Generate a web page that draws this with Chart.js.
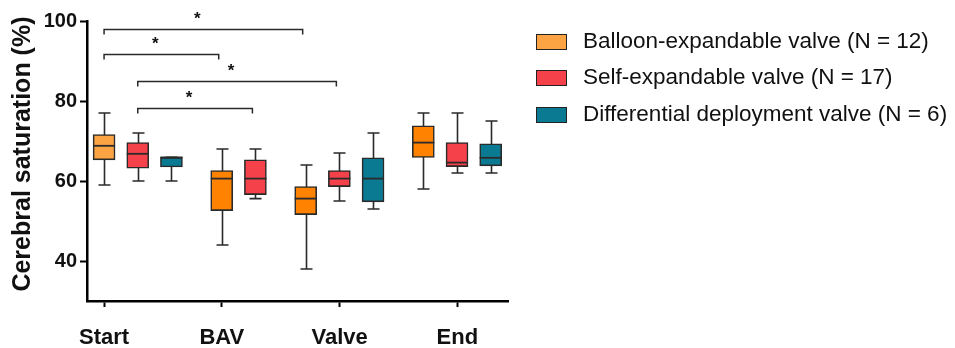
<!DOCTYPE html>
<html>
<head>
<meta charset="utf-8">
<script src="https://cdn.jsdelivr.net/npm/chart.js@4/dist/chart.umd.min.js"></script>
<style>
	body { margin: 0; background: #fff; }
	#wrap { position: relative; width: 955px; height: 348px; }
	#legend { position: absolute; left: 536px; top: 34px; font-family: Arial, "Liberation Sans", sans-serif; font-size: 22.5px; color: #111; }
	.item { position: relative; height: 36.3px; white-space: nowrap; }
	.swatch { position: absolute; left: 0; top: 0; width: 29px; height: 14px; border: 1px solid #222; }
	.label { position: absolute; left: 47px; top: -6px; }
</style>
</head>
<body>
<div id="wrap">
	<canvas id="c" width="955" height="348"></canvas>
	<div id="legend"></div>
</div>
<script>
// categories and series
const categories = ["Start", "BAV", "Valve", "End"];
const seriesNames = ["Balloon-expandable valve (N = 12)", "Self-expandable valve (N = 17)", "Differential deployment valve (N = 6)"];

// box plot values (min, q1, median, q3, max)
const balloonMin = [59, 44, 38, 58];
const balloonQ1 = [65.3, 52.6, 51.6, 65.9];
const balloonMed = [68.8, 60.6, 55.6, 69.6];
const balloonQ3 = [71.6, 62.6, 58.6, 73.8];
const balloonMax = [77, 68, 64, 77];

const selfMin = [60, 55.6, 55, 62];
const selfQ1 = [63.2, 56.6, 58.6, 63.6];
const selfMed = [66.8, 60.6, 60.6, 64.6];
const selfQ3 = [69.6, 65.3, 62.6, 69.6];
const selfMax = [72, 68, 67, 77];

const diffMin = [60, null, 53, 62];
const diffQ1 = [63.5, null, 54.8, 63.8];
const diffMed = [65.9, null, 60.6, 65.8];
const diffQ3 = [65.9, null, 65.8, 69.3];
const diffMax = [65.9, null, 72, 75];

// significance brackets: [category, series] at each end, y in %
const bracketFrom = [[0, 0], [0, 0], [0, 1], [0, 1]];
const bracketTo = [[2, 0], [1, 0], [2, 1], [1, 1]];
const bracketY = [97.9, 91.8, 84.9, 78.3];
const bracketMark = ["*", "*", "*", "*"];

const yTicks = [40, 60, 80, 100];

const series = [
	{min: balloonMin, q1: balloonQ1, med: balloonMed, q3: balloonQ3, max: balloonMax,
		colors: ["#FCA443", "#FF8300", "#FF8300", "#FF8300"], legend: "#FCA443"},
	{min: selfMin, q1: selfQ1, med: selfMed, q3: selfQ3, max: selfMax,
		colors: ["#F5414A", "#F5414A", "#F5414A", "#F5414A"], legend: "#F5414A"},
	{min: diffMin, q1: diffQ1, med: diffMed, q3: diffQ3, max: diffMax,
		colors: ["#0A7A93", "#0A7A93", "#0A7A93", "#0A7A93"], legend: "#0A7A93"}
];

// boxes are laid out one after another (missing boxes take no room),
// with a wider gap between the groups
const BOX_STEP = 0.286;
const GROUP_GAP = 0.141;
const BOX_W = 22;
const CAP_W = 12;
const INK = "#2a2a2a";

const boxX = series.map(() => []);
(function () {
	let cursor = 0;
	categories.forEach((c, i) => {
		let first = true;
		series.forEach((s, si) => {
			if (s.q1[i] == null) return;
			if (!first) cursor += BOX_STEP;
			boxX[si][i] = cursor;
			first = false;
		});
		cursor += BOX_STEP + GROUP_GAP;
	});
})();

const datasets = series.map((s, si) => {
	let data = [];
	let bg = [];
	categories.forEach((c, i) => {
		if (s.q1[i] == null) return;
		data.push({x: boxX[si][i], y: [s.q1[i], s.q3[i]]});
		bg.push(s.colors[i]);
	});
	return {
		label: seriesNames[si],
		data: data,
		backgroundColor: bg,
		borderColor: INK,
		borderWidth: 1.6,
		borderSkipped: false,
		barThickness: BOX_W,
		grouped: false
	};
});

const boxExtras = {
	id: "boxExtras",
	beforeDatasetsDraw(chart) {
		const ctx = chart.ctx, xs = chart.scales.x, ys = chart.scales.y;
		ctx.save();
		ctx.strokeStyle = INK;
		ctx.lineWidth = 1.6;
		series.forEach((s, si) => {
			categories.forEach((c, i) => {
				if (s.min[i] == null) return;
				const x = Math.round(xs.getPixelForValue(boxX[si][i])) + 0.5;
				const yTop = ys.getPixelForValue(s.max[i]);
				const yBot = ys.getPixelForValue(s.min[i]);
				ctx.beginPath();
				ctx.moveTo(x, yTop); ctx.lineTo(x, yBot);
				ctx.moveTo(x - CAP_W / 2, yTop); ctx.lineTo(x + CAP_W / 2, yTop);
				ctx.moveTo(x - CAP_W / 2, yBot); ctx.lineTo(x + CAP_W / 2, yBot);
				ctx.stroke();
			});
		});
		ctx.restore();
	},
	afterDatasetsDraw(chart) {
		const ctx = chart.ctx, xs = chart.scales.x, ys = chart.scales.y;
		ctx.save();
		ctx.strokeStyle = INK;
		ctx.lineWidth = 1.8;
		series.forEach((s, si) => {
			categories.forEach((c, i) => {
				if (s.med[i] == null) return;
				const x = xs.getPixelForValue(boxX[si][i]);
				const y = ys.getPixelForValue(s.med[i]);
				ctx.beginPath();
				ctx.moveTo(x - BOX_W / 2, y); ctx.lineTo(x + BOX_W / 2, y);
				ctx.stroke();
			});
		});
		// brackets
		ctx.lineWidth = 1.5;
		ctx.fillStyle = "#111";
		ctx.font = "bold 17px Arial, 'Liberation Sans', sans-serif";
		ctx.textAlign = "center";
		ctx.textBaseline = "middle";
		bracketY.forEach((v, k) => {
			const a = bracketFrom[k], b = bracketTo[k];
			const x1 = xs.getPixelForValue(boxX[a[1]][a[0]]);
			const x2 = xs.getPixelForValue(boxX[b[1]][b[0]]) - 3;
			const y = Math.round(ys.getPixelForValue(v)) + 0.5;
			ctx.beginPath();
			ctx.moveTo(x1, y + 5); ctx.lineTo(x1, y); ctx.lineTo(x2, y); ctx.lineTo(x2, y + 5);
			ctx.stroke();
			ctx.fillText(bracketMark[k], (x1 + x2) / 2 - 6, y - 10);
		});
		ctx.restore();
	}
};

new Chart(document.getElementById("c"), {
	type: "bar",
	data: {datasets: datasets},
	plugins: [boxExtras],
	options: {
		responsive: false,
		animation: false,
		layout: {padding: {top: 21, right: 447, left: 0, bottom: 0}},
		plugins: {legend: {display: false}, tooltip: {enabled: false}},
		scales: {
			x: {
				type: "linear",
				min: -0.145,
				max: 3.43,
				offset: false,
				afterFit: function(scale) { scale.height = 47; },
				afterBuildTicks: function(scale) {
					scale.ticks = categories.map((c, i) => ({value: i}));
				},
				border: {display: true, color: "#000", width: 2.5},
				grid: {offset: false, drawOnChartArea: false, drawTicks: true, tickLength: 6, tickColor: "#000", tickWidth: 2},
				ticks: {
					autoSkip: false, maxRotation: 0, padding: 18, color: "#111",
					font: {family: "Arial, 'Liberation Sans', sans-serif", size: 22, weight: "bold"},
					callback: function(v) { return categories[v]; }
				}
			},
			y: {
				min: 30,
				max: 100,
				afterFit: function(scale) { scale.width = 87; },
				afterBuildTicks: function(scale) {
					scale.ticks = yTicks.map(v => ({value: v}));
				},
				border: {display: true, color: "#000", width: 2.5},
				grid: {drawOnChartArea: false, drawTicks: true, tickLength: 7, tickColor: "#000", tickWidth: 2},
				ticks: {
					padding: 3, color: "#111",
					font: {family: "Arial, 'Liberation Sans', sans-serif", size: 20, weight: "bold"}
				},
				title: {
					display: true, text: "  Cerebral saturation (%)", color: "#111",
					padding: {top: 8, bottom: 0},
					font: {family: "Arial, 'Liberation Sans', sans-serif", size: 25, weight: "bold"}
				}
			}
		}
	}
});

// legend
const legend = document.getElementById("legend");
series.forEach((s, si) => {
	const row = document.createElement("div");
	row.className = "item";
	row.innerHTML = '<span class="swatch" style="background:' + s.legend + '"></span><span class="label">' + seriesNames[si] + '</span>';
	legend.appendChild(row);
});
</script>
</body>
</html>
